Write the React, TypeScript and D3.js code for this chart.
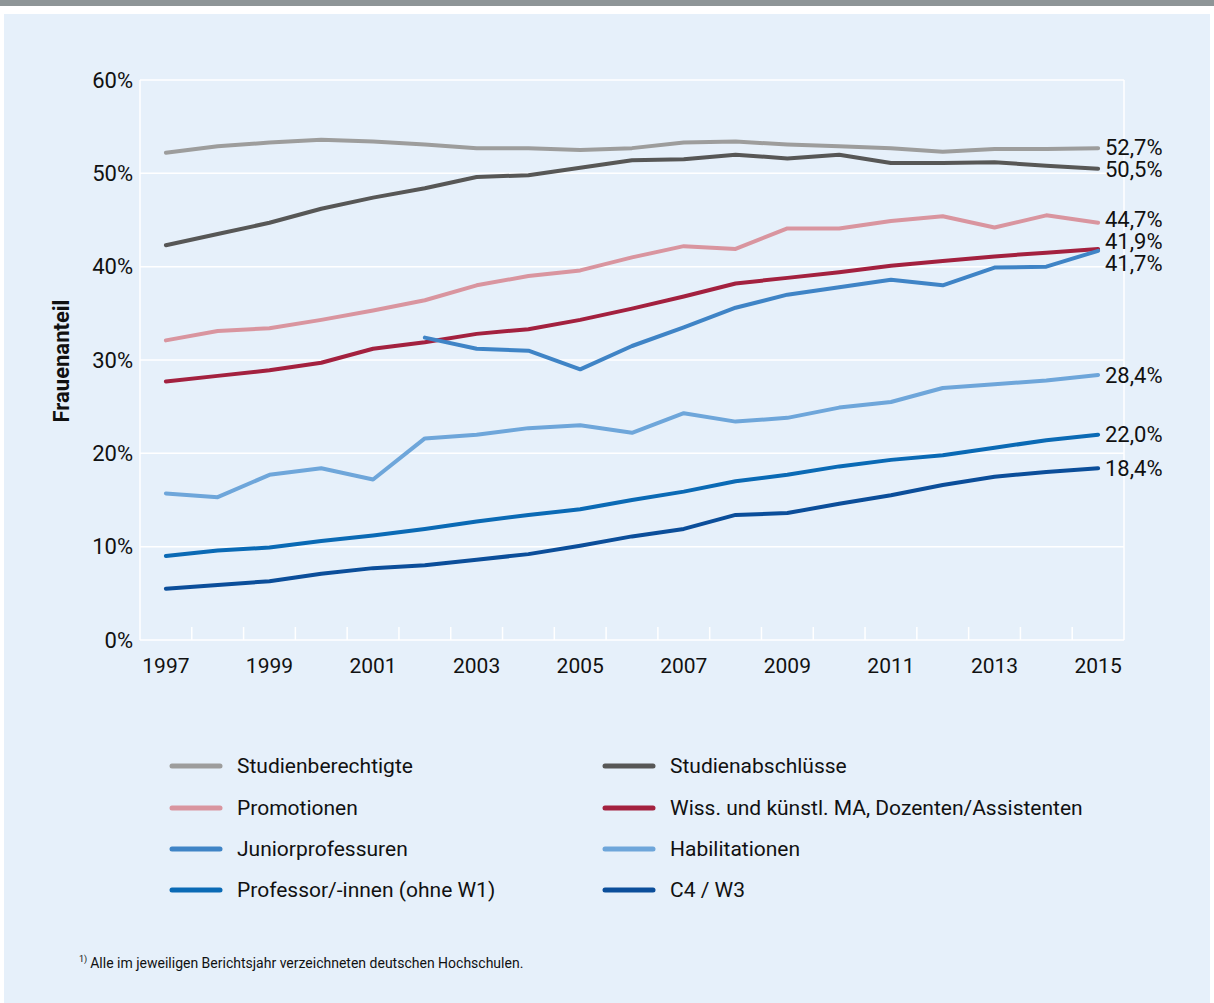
import React from "react";
import * as d3 from "d3";

const years = [1997, 1998, 1999, 2000, 2001, 2002, 2003, 2004, 2005, 2006, 2007, 2008, 2009, 2010, 2011, 2012, 2013, 2014, 2015];
const yTicks = [0, 10, 20, 30, 40, 50, 60];
const xTickLabels = [1997, 1999, 2001, 2003, 2005, 2007, 2009, 2011, 2013, 2015];

const studienberechtigte = [52.2, 52.9, 53.3, 53.6, 53.4, 53.1, 52.7, 52.7, 52.5, 52.7, 53.3, 53.4, 53.1, 52.9, 52.7, 52.3, 52.6, 52.6, 52.7];
const studienabschluesse = [42.3, 43.5, 44.7, 46.2, 47.4, 48.4, 49.6, 49.8, 50.6, 51.4, 51.5, 52.0, 51.6, 52.0, 51.1, 51.1, 51.2, 50.8, 50.5];
const promotionen = [32.1, 33.1, 33.4, 34.3, 35.3, 36.4, 38.0, 39.0, 39.6, 41.0, 42.2, 41.9, 44.1, 44.1, 44.9, 45.4, 44.2, 45.5, 44.7];
const wissMA = [27.7, 28.3, 28.9, 29.7, 31.2, 31.9, 32.8, 33.3, 34.3, 35.5, 36.8, 38.2, 38.8, 39.4, 40.1, 40.6, 41.1, 41.5, 41.9];
const juniorprof = [null, null, null, null, null, 32.4, 31.2, 31.0, 29.0, 31.5, 33.5, 35.6, 37.0, 37.8, 38.6, 38.0, 39.9, 40.0, 41.7];
const habilitationen = [15.7, 15.3, 17.7, 18.4, 17.2, 21.6, 22.0, 22.7, 23.0, 22.2, 24.3, 23.4, 23.8, 24.9, 25.5, 27.0, 27.4, 27.8, 28.4];
const professoren = [9.0, 9.6, 9.9, 10.6, 11.2, 11.9, 12.7, 13.4, 14.0, 15.0, 15.9, 17.0, 17.7, 18.6, 19.3, 19.8, 20.6, 21.4, 22.0];
const c4w3 = [5.5, 5.9, 6.3, 7.1, 7.7, 8.0, 8.6, 9.2, 10.1, 11.1, 11.9, 13.4, 13.6, 14.6, 15.5, 16.6, 17.5, 18.0, 18.4];

const seriesNames = [
  "Studienberechtigte",
  "Studienabschlüsse",
  "Promotionen",
  "Wiss. und künstl. MA, Dozenten/Assistenten",
  "Juniorprofessuren",
  "Habilitationen",
  "Professor/-innen (ohne W1)",
  "C4 / W3",
];
const seriesValues = [studienberechtigte, studienabschluesse, promotionen, wissMA, juniorprof, habilitationen, professoren, c4w3];
const seriesColors = ["#9d9d9c", "#575756", "#d9959f", "#a3213f", "#3f84c6", "#6ea6da", "#0a6ab5", "#0b4e9a"];

const FONT = "Roboto, 'Open Sans', sans-serif";

export default function App() {
  const W = 1214;
  const H = 1003;
  const left = 140;
  const right = 1124;
  const top = 80;
  const bottom = 640;

  const x = d3.scalePoint<number>().domain(years).range([left, right]).padding(0.5);
  const y = d3.scaleLinear().domain([0, 60]).range([bottom, top]);
  const step = x.step();

  const line = d3
    .line<number | null>()
    .defined((d) => d !== null)
    .x((_, i) => x(years[i]) as number)
    .y((d) => y(d as number));

  // end labels with simple collision avoidance
  const minGap = 22;
  const labels = seriesValues.map((vals, i) => {
    const v = vals[vals.length - 1] as number;
    return { i, v, y0: y(v), y: y(v) };
  });
  labels.sort((a, b) => a.y0 - b.y0);
  const clusters = labels.map((l) => ({ items: [l], center: l.y0 }));
  let changed = true;
  while (changed) {
    changed = false;
    for (let k = 0; k < clusters.length - 1; k++) {
      const a = clusters[k];
      const b = clusters[k + 1];
      const aBottom = a.center + ((a.items.length - 1) * minGap) / 2;
      const bTop = b.center - ((b.items.length - 1) * minGap) / 2;
      if (bTop - aBottom < minGap) {
        const items = [...a.items, ...b.items];
        const center = d3.mean(items, (d) => d.y0) as number;
        clusters.splice(k, 2, { items, center });
        changed = true;
        break;
      }
    }
  }
  clusters.forEach((c) => {
    c.items.forEach((it, j) => {
      it.y = c.center + (j - (c.items.length - 1) / 2) * minGap;
    });
  });

  const boundaries = d3.range(1, years.length).map((k) => left + k * step);

  const legendCols = [172, 605];
  const legendRows = [766, 808, 849, 890];

  return (
    <svg width={W} height={H} style={{ position: "absolute", left: 0, top: 0 }} fontFamily={FONT}>
      <rect x={0} y={0} width={W} height={H} fill="#ffffff" />
      <rect x={0} y={0} width={W} height={6} fill="#8e9597" />
      <rect x={4} y={14} width={W - 8} height={H - 14} fill="#e6f0fa" />

      {/* gridlines */}
      {yTicks.map((t) => (
        <line key={t} x1={left} x2={right} y1={y(t)} y2={y(t)} stroke="#ffffff" strokeWidth={1.5} />
      ))}
      <line x1={left} x2={left} y1={top} y2={bottom} stroke="#ffffff" strokeWidth={1.5} />
      <line x1={right} x2={right} y1={top} y2={bottom} stroke="#ffffff" strokeWidth={1.5} />
      {boundaries.map((bx, k) => (
        <line key={k} x1={bx} x2={bx} y1={bottom - 13} y2={bottom} stroke="#ffffff" strokeWidth={1.5} />
      ))}

      {/* y tick labels */}
      {yTicks.map((t) => (
        <text key={t} x={133} y={y(t)} dy="0.35em" textAnchor="end" fontSize={22} fill="#111">
          {t}%
        </text>
      ))}
      {/* x tick labels */}
      {xTickLabels.map((yr) => (
        <text key={yr} x={x(yr) as number} y={673} textAnchor="middle" fontSize={21} fill="#111">
          {yr}
        </text>
      ))}

      <text
        transform={`translate(69,361) rotate(-90)`}
        textAnchor="middle"
        fontSize={22}
        fontWeight="bold"
        fill="#111"
      >
        Frauenanteil
      </text>

      {/* lines */}
      {seriesValues.map((vals, i) => (
        <path
          key={i}
          d={line(vals) as string}
          fill="none"
          stroke={seriesColors[i]}
          strokeWidth={4}
          strokeLinejoin="round"
          strokeLinecap="round"
        />
      ))}

      {/* end labels */}
      {labels.map((l) => (
        <text key={l.i} x={1105} y={l.y} dy="0.35em" fontSize={22} fill="#111">
          {d3.format(".1f")(l.v).replace(".", ",")}%
        </text>
      ))}

      {/* legend */}
      {seriesNames.map((name, i) => {
        const col = i % 2;
        const row = Math.floor(i / 2);
        const lx = legendCols[col];
        const ly = legendRows[row];
        return (
          <g key={name}>
            <line x1={lx} x2={lx + 48} y1={ly} y2={ly} stroke={seriesColors[i]} strokeWidth={5} strokeLinecap="round" />
            <text x={lx + 65} y={ly} dy="0.35em" fontSize={21} fill="#111">
              {name}
            </text>
          </g>
        );
      })}

      {/* footnote */}
      <text x={79} y={968} fontSize={14} fill="#111">
        <tspan fontSize={9} dy={-6}>1)</tspan>
        <tspan dy={6} dx={3}>Alle im jeweiligen Berichtsjahr verzeichneten deutschen Hochschulen.</tspan>
      </text>
    </svg>
  );
}
